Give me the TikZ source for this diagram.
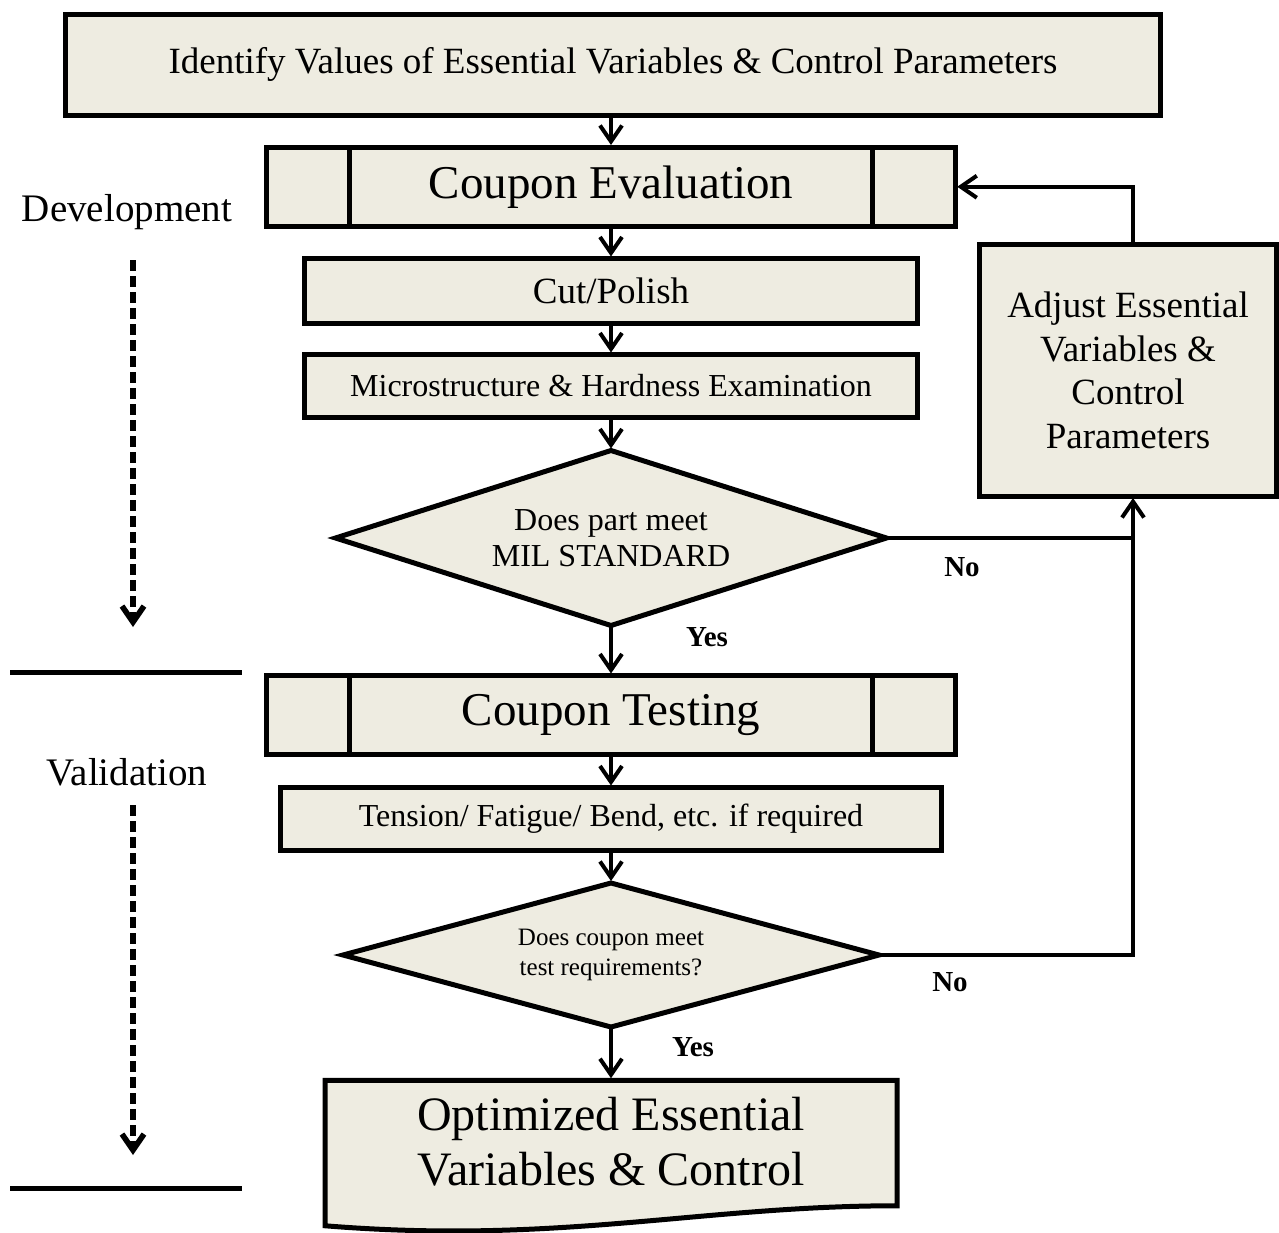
\documentclass[tikz,border=0pt]{standalone}
\usepackage{fontspec}
\setmainfont{Liberation Serif}
\usetikzlibrary{arrows.meta,shapes.geometric,backgrounds}
\definecolor{boxfill}{HTML}{EEECE1}
\tikzset{
  box/.style={draw, line width=2.5pt, fill=boxfill, inner sep=0pt, outer sep=0pt, align=center},
  decision/.style={diamond, aspect=3, draw, line width=2.5pt, fill=boxfill, inner sep=0pt, outer sep=0pt, align=center},
  conn/.style={line width=2pt, shorten >=1pt, -{Straight Barb[length=8pt,width=11pt]}},
  plainline/.style={line width=2pt},
  phase/.style={font=\fontsize{19.5}{23}\selectfont},
  answer/.style={font=\bfseries\fontsize{14.5}{16}\selectfont},
  phasearrow/.style={line width=2.8pt, dash pattern=on 5.5pt off 2.5pt, -{Straight Barb[length=8pt,width=11pt]}},
  separator/.style={line width=2.5pt},
}
\begin{document}
\begin{tikzpicture}[x=0.5pt, y=-0.5pt]
\useasboundingbox (0,0) rectangle (1279,1232);

% main column
\node[box, minimum width=547.5pt, minimum height=50.25pt, font=\fontsize{18.5}{22}\selectfont]
  (top) at (613,64.75) {Identify Values of Essential Variables \& Control Parameters};
\node[box, minimum width=344.25pt, minimum height=39.75pt, font=\fontsize{23.5}{28}\selectfont]
  (ce) at (611,186.75) {\raisebox{-1.5pt}{Coupon Evaluation}};
\node[box, minimum width=306.5pt, minimum height=32.5pt, font=\fontsize{18.5}{22}\selectfont]
  (cut) at (611,291) {Cut/Polish};
\node[box, minimum width=306.5pt, minimum height=31.5pt, font=\fontsize{16}{19}\selectfont]
  (micro) at (611,386) {Microstructure \& Hardness Examination};
\node[decision, minimum width=275.5pt, minimum height=87.5pt, font=\fontsize{16}{18}\selectfont]
  (d1) at (611,538) {Does part meet\\MIL STANDARD};
\node[box, minimum width=344.5pt, minimum height=39.5pt, font=\fontsize{23.5}{28}\selectfont]
  (ct) at (611,715) {\raisebox{-1.5pt}{Coupon Testing}};
\node[box, minimum width=330.5pt, minimum height=31.5pt, font=\fontsize{16}{19}\selectfont]
  (ten) at (611,819) {Tension/ Fatigue/ Bend, etc. if required};
\node[decision, minimum width=268pt, minimum height=72pt, font=\fontsize{12.5}{15}\selectfont]
  (d2) at (611,955) {Does coupon meet\\test requirements?};
\node[inner sep=0pt, outer sep=0pt, minimum width=286pt, minimum height=62.75pt, align=center,
  font=\fontsize{24}{27.5}\selectfont]
  (doc) at (611,1142) {Optimized Essential\\Variables \& Control};

% side box
\node[box, minimum width=148.5pt, minimum height=125.75pt, font=\fontsize{18.5}{21.7}\selectfont]
  (adj) at (1128,370.25) {Adjust Essential\\Variables \&\\Control\\Parameters};

% predefined-process side bars
\foreach \n in {ce,ct} {
  \draw[line width=2.5pt] ([xshift=41.5pt]\n.north west) -- ([xshift=41.5pt]\n.south west);
  \draw[line width=2.5pt] ([xshift=-41.5pt]\n.north east) -- ([xshift=-41.5pt]\n.south east);
}

% document shape with wavy bottom
\begin{scope}[on background layer]
  \filldraw[line width=2.5pt, fill=boxfill, line join=miter]
    ([yshift=-0.5pt]doc.north west) -- ([yshift=-0.5pt]doc.north east) -- ([yshift=-0.5pt]doc.south east)
    .. controls +(-197,0) and +(235,19) .. ([yshift=-10.5pt]doc.south west) -- cycle;
\end{scope}
\coordinate (doctop) at ([yshift=-0.5pt]doc.north);

% flow connectors
\draw[conn] (top.south -| ce.north) -- (ce.north);
\draw[conn] (ce.south) -- (cut.north);
\draw[conn] (cut.south) -- (micro.north);
\draw[conn] (micro.south) -- (d1.north);
\draw[conn] (d1.south) -- (ct.north);
\draw[conn] (ct.south) -- (ten.north);
\draw[conn] (ten.south) -- (d2.north);
\draw[conn] (d2.south) -- (doctop);

% feedback loop
\coordinate (fbx) at (1133,0);
\draw[plainline] (d1.east) -- (fbx |- d1.east);
\draw[conn] (d2.east) -- (fbx |- d2.east) -- (fbx |- adj.south);
\draw[conn] (fbx |- adj.north) -- (fbx |- ce.east) -- (ce.east);

% branch labels
\node[answer] (yes1) at (707,637) {Yes};
\node[answer] (no1) at (962,567) {No};
\node[answer] (no2) at (950,982) {No};
\node[answer] (yes2) at (693,1047) {Yes};

% phase column
\node[phase] (dev) at (127,212) {Development};
\node[phase] (val) at (127,772) {Validation};
\coordinate (devs) at (133,260);
\coordinate (deve) at (133,627);
\coordinate (vals) at (133,805);
\coordinate (vale) at (133,1155);
\draw[phasearrow] (devs) -- (deve);
\draw[phasearrow] (vals) -- (vale);
\draw[separator] (10,672) -- (242,672);
\draw[separator] (10,1188) -- (242,1188);
\end{tikzpicture}
\end{document}
